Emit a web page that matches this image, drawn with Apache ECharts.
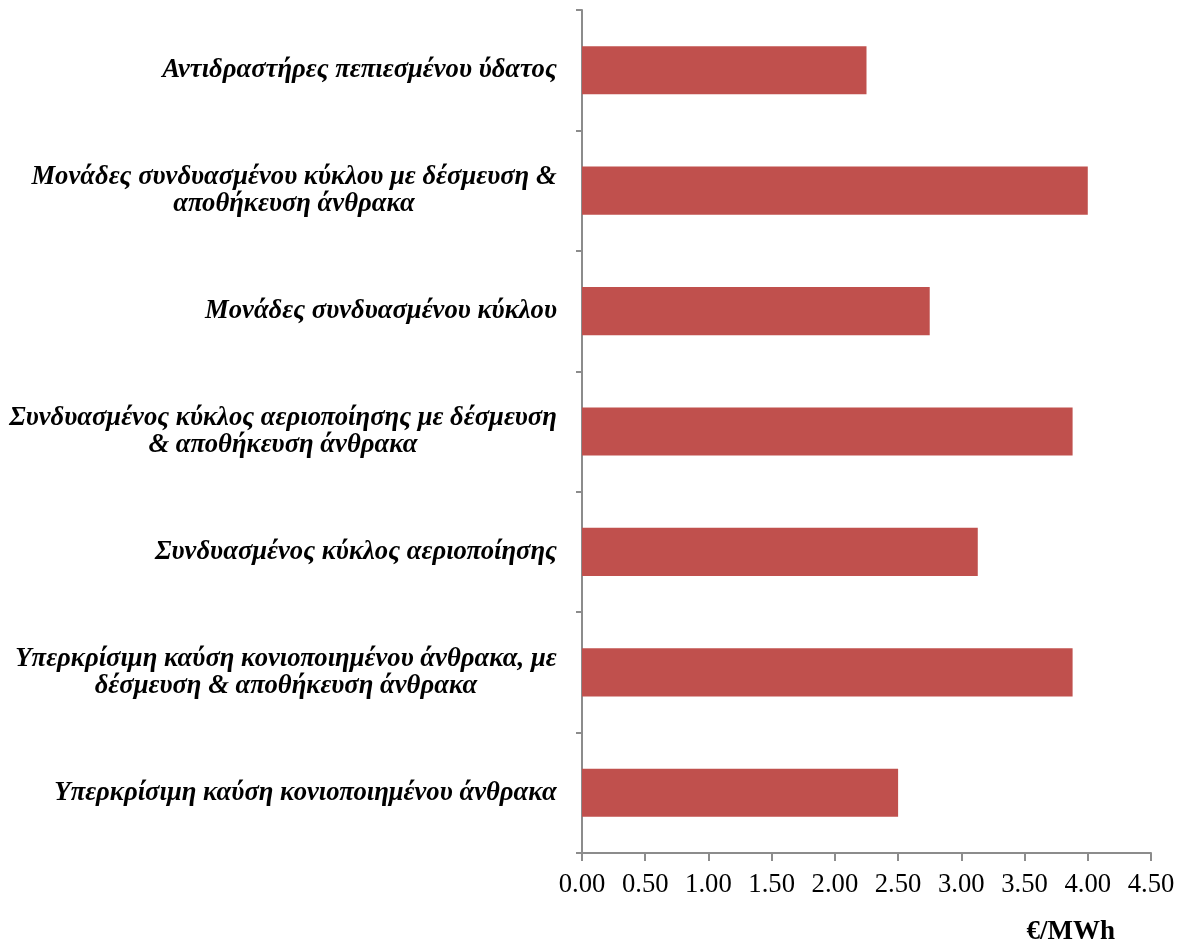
<!DOCTYPE html>
<html>
<head>
<meta charset="utf-8">
<script src="https://cdn.jsdelivr.net/npm/echarts@6/dist/echarts.min.js"></script>
<style>
  html, body { margin: 0; padding: 0; background: #fff; }
  #chart { width: 1181px; height: 949px; }
</style>
</head>
<body>
<div id="chart"></div>
<script>
// Technologies, listed top to bottom; "\n" marks the label line breaks
const categories = [
  'Αντιδραστήρες πεπιεσμένου ύδατος',
  'Μονάδες συνδυασμένου κύκλου με δέσμευση &\nαποθήκευση άνθρακα',
  'Μονάδες συνδυασμένου κύκλου',
  'Συνδυασμένος κύκλος αεριοποίησης με δέσμευση\n& αποθήκευση άνθρακα',
  'Συνδυασμένος κύκλος αεριοποίησης',
  'Υπερκρίσιμη καύση κονιοποιημένου άνθρακα, με\nδέσμευση & αποθήκευση άνθρακα',
  'Υπερκρίσιμη καύση κονιοποιημένου άνθρακα'
];
// Cost in €/MWh
const values = [2.25, 4.00, 2.75, 3.88, 3.13, 3.88, 2.50];
const axisUnit = '€/MWh';

const FONT_SIZE = 26.67;
const labelFont = 'italic bold ' + FONT_SIZE + 'px "Liberation Serif"';
const measureCtx = document.createElement('canvas').getContext('2d');
measureCtx.font = labelFont;

// Each label block is right-aligned to the axis, with its lines centred
// on one another: give every line a token as wide as the widest line.
const rich = {};
const labelIndex = {};
categories.forEach((c, i) => {
  const w = Math.max(...c.split('\n').map(s => measureCtx.measureText(s).width));
  rich['c' + i] = {
    width: Math.ceil(w),
    align: 'center',
    fontFamily: 'Liberation Serif',
    fontStyle: 'italic',
    fontWeight: 'bold',
    fontSize: FONT_SIZE,
    lineHeight: 27,
    color: '#000'
  };
  labelIndex[c] = i;
});

const chart = echarts.init(document.getElementById('chart'), null, { renderer: 'canvas' });
chart.setOption({
  animation: false,
  grid: { left: 582, right: 30, top: 10, bottom: 96, containLabel: false },
  xAxis: {
    type: 'value',
    min: 0,
    max: 4.5,
    interval: 0.5,
    splitLine: { show: false },
    axisLine: { show: true, lineStyle: { color: '#8c8c8c', width: 2 } },
    axisTick: { show: true, length: 8, lineStyle: { color: '#8c8c8c', width: 2 } },
    axisLabel: {
      margin: 18,
      color: '#000',
      fontFamily: 'Liberation Serif',
      fontSize: FONT_SIZE,
      formatter: v => v.toFixed(2)
    },
    name: axisUnit,
    nameLocation: 'end',
    nameGap: -36,
    nameTextStyle: {
      align: 'right',
      verticalAlign: 'top',
      padding: [66, 0, 0, 0],
      color: '#000',
      fontFamily: 'Liberation Serif',
      fontWeight: 'bold',
      fontSize: 27
    }
  },
  yAxis: {
    type: 'category',
    data: categories,
    inverse: true,
    axisLine: { show: true, lineStyle: { color: '#8c8c8c', width: 2 } },
    axisTick: { show: true, length: 6, lineStyle: { color: '#8c8c8c', width: 2 } },
    axisLabel: {
      margin: 25,
      formatter: v => v.split('\n').map(s => '{c' + labelIndex[v] + '|' + s + '}').join('\n'),
      rich: rich
    }
  },
  series: [{
    type: 'bar',
    data: values,
    barWidth: '40%',
    itemStyle: { color: '#C0504D' }
  }]
});
</script>
</body>
</html>
